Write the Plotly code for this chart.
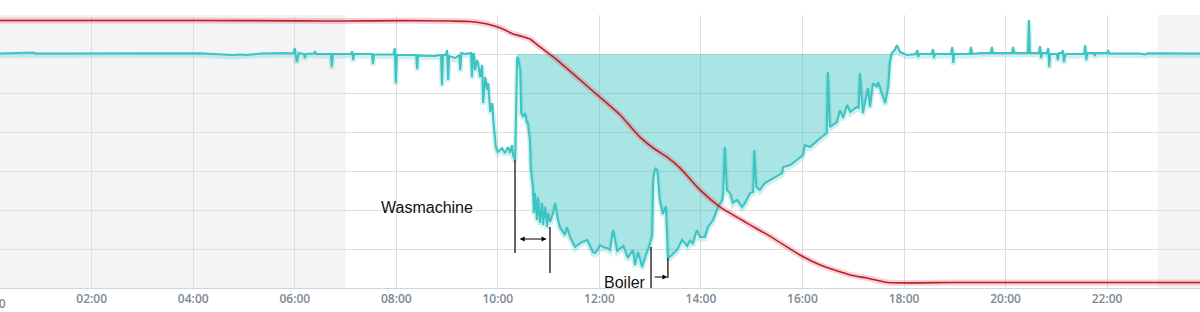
import plotly.graph_objects as go

# ---- data (time in hours of day) ----
power_t = [0.19, 0.79, 0.84, 0.90, 2.16, 3.15, 4.13, 4.78, 4.92, 5.06, 5.32, 5.77, 5.95, 5.98, 6.00, 6.04, 6.08,
           6.16, 6.18, 6.20, 6.22, 6.36, 6.38, 6.40, 6.42, 6.71, 6.73, 6.75, 6.99, 7.11, 7.13, 7.15, 7.17,
           7.52, 7.54, 7.56, 7.95, 7.97, 7.99, 8.01, 8.39, 8.41, 8.43, 8.76, 8.86, 8.88, 8.90, 8.92,
           8.98, 9.00, 9.02, 9.04, 9.16, 9.22, 9.24, 9.26, 9.28, 9.35, 9.45, 9.47, 9.49, 9.51, 9.53,
           9.55, 9.59, 9.61, 9.65, 9.69, 9.71, 9.75, 9.79, 9.81,
           9.85, 9.89, 9.91, 9.94, 9.96, 10.00, 10.08, 10.14, 10.20, 10.24, 10.28, 10.30, 10.34, 10.36,
           10.38, 10.40, 10.44, 10.46, 10.50, 10.54, 10.57, 10.59, 10.63, 10.65, 10.69, 10.71, 10.73, 10.77,
           10.79, 10.83, 10.87, 10.89, 10.93, 10.97, 10.99, 11.03, 11.09, 11.13, 11.17, 11.22, 11.32, 11.36,
           11.42, 11.52, 11.62, 11.66, 11.76, 11.82, 11.87, 11.91, 11.97, 12.01, 12.07, 12.15, 12.21, 12.27,
           12.35, 12.47, 12.56, 12.66, 12.70, 12.76, 12.84, 12.90, 12.96, 13.00, 13.04, 13.06, 13.10, 13.14,
           13.19, 13.25, 13.31, 13.35, 13.43, 13.53, 13.63, 13.73, 13.79, 13.84, 13.92, 13.98, 14.08, 14.14,
           14.24, 14.34, 14.42, 14.44, 14.47, 14.51, 14.57, 14.63, 14.71, 14.81, 14.87, 14.97, 15.03, 15.05,
           15.09, 15.16, 15.26, 15.42, 15.60, 15.62, 15.76, 15.89, 16.01, 16.05, 16.15, 16.35, 16.48, 16.50,
           16.54, 16.68, 16.74, 16.80, 16.88, 16.94, 17.07, 17.11, 17.13, 17.19, 17.29, 17.33, 17.39, 17.47,
           17.49, 17.57, 17.63, 17.69, 17.72, 17.76, 17.82, 17.86, 17.92, 18.06, 18.24, 18.26, 18.28, 18.30,
           18.55, 18.57, 18.59, 18.61, 18.93, 18.95, 18.97, 18.99, 19.30, 19.32, 19.34, 19.50, 19.71, 19.73,
           19.75, 20.13, 20.15, 20.17, 20.44, 20.46, 20.48, 20.66, 20.68, 20.70, 20.72, 20.82, 20.84, 20.86,
           20.88, 21.01, 21.03, 21.05, 21.11, 21.13, 21.15, 21.17, 21.19, 21.55, 21.57, 21.59, 21.61, 21.74,
           21.76, 21.78, 22.00, 22.02, 22.04, 22.65, 22.75, 22.79, 23.83]
power_w = [6, 13, 19, 6, 9, 6, 9, -13, -6, -13, 6, 13, 6, 6, 77, -103, 13,
           0, 0, -51, 0, 6, 6, 38, 0, 0, -167, 0, 0, 0, 38, -77, 0,
           0, -128, -6, -6, 77, -372, -13, -13, -192, -19, -26, -13, -13, -397, -13,
           -13, 51, -333, -26, -51, -13, -13, -205, 13, 0, 13, 13, -295, 0, 0,
           -205, -77, -115, -295, -141, -628, -295, -462, -372,
           -744, -628, -846, -1013, -1192, -1256, -1205, -1269, -1192, -1269, -1167, -1295, -1359, -718,
           -38, -51, -205, -756, -808, -756, -885, -872, -1103, -1487, -1705, -2038, -1782, -2128,
           -1833, -2167, -1910, -2192, -1961, -2218, -2038, -2154, -2038, -1910, -2090, -2218, -2320, -2218,
           -2346, -2474, -2423, -2410, -2385, -2474, -2538, -2551, -2513, -2449, -2474, -2487, -2513, -2256,
           -2525, -2461, -2615, -2513, -2705, -2538, -2731, -2615, -2513, -2423, -2320, -1615, -1461, -1487,
           -1872, -2051, -1949, -2615, -2577, -2513, -2385, -2461, -2385, -2436, -2256, -2346, -2346, -2218,
           -2128, -1961, -1872, -1782, -1192, -1744, -1782, -1910, -1872, -1961, -1910, -1782, -1770, -1231,
           -1705, -1744, -1654, -1590, -1526, -1449, -1423, -1359, -1295, -1167, -1192, -1077, -1013, -231,
           -936, -872, -718, -820, -654, -744, -679, -690, -244, -756, -436, -679, -372, -423,
           -359, -526, -628, -423, -115, 13, 51, 115, 26, -13, 0, 51, -38, 0,
           0, 64, -51, 0, 0, 90, -115, 0, 0, 90, 0, 13, 13, 90,
           13, 13, 90, 13, 13, 436, 13, 13, 103, -51, 13, 13, 77, -167,
           0, 0, -77, 13, 13, 51, -103, -38, 0, 0, 115, -77, 13, 13,
           -26, 13, 13, 51, 6, 6, -6, 9, 6]

energy_t = [0.19, 2.16, 4.13, 6.10, 6.99, 8.07, 9.06, 9.45, 9.79, 9.98, 10.14, 10.30, 10.48, 10.63, 10.83,
            11.17, 11.62, 12.01, 12.41, 12.80, 13.06, 13.33, 13.59, 13.98, 14.38, 14.91, 15.42, 15.95,
            16.35, 16.94, 17.27, 17.68, 18.91, 19.89, 21.86, 23.83]
energy_kwh = [13.72, 13.72, 13.72, 13.70, 13.69, 13.71, 13.69, 13.67, 13.54, 13.40, 13.23, 13.03, 12.90,
              12.77, 12.36, 11.69, 10.67, 9.79, 8.87, 7.74, 7.18, 6.72, 6.15, 5.03, 4.15, 3.33, 2.56, 1.69,
              1.18, 0.67, 0.51, 0.28, 0.28, 0.28, 0.28, 0.28]

tick_hours = [2, 4, 6, 8, 10, 12, 14, 16, 18, 20, 22]
tick_text = ["02:00", "04:00", "06:00", "08:00", "10:00", "12:00", "14:00", "16:00", "18:00", "20:00", "22:00"]
offpeak = [(0, 7), (23, 24)]
solar_window = (10.37, 17.77)

X_RANGE = [0.194, 23.83]

# fill region (derived from the power series)
fill_t = [t for t in power_t if solar_window[0] <= t <= solar_window[1]]
fill_w = [min(w, 0) for t, w in zip(power_t, power_w) if solar_window[0] <= t <= solar_window[1]]

TEAL = "#3ec3c3"
RED = "#b3232b"

fig = go.Figure()
fig.add_trace(go.Scatter(x=fill_t, y=fill_w, mode="lines", fill="tozeroy",
                         fillcolor="rgba(62,196,196,0.44)", line=dict(width=0), hoverinfo="skip"))
fig.add_trace(go.Scatter(x=power_t, y=[w - 25 for w in power_w], mode="lines",
                         line=dict(color="rgba(62,196,196,0.25)", width=5), hoverinfo="skip"))
fig.add_trace(go.Scatter(x=power_t, y=power_w, mode="lines", line=dict(color=TEAL, width=2)))
fig.add_trace(go.Scatter(x=energy_t, y=energy_kwh, mode="lines", yaxis="y2",
                         line=dict(color="rgba(235,90,100,0.28)", width=6, shape="spline", smoothing=0.5),
                         hoverinfo="skip"))
fig.add_trace(go.Scatter(x=energy_t, y=energy_kwh, mode="lines", yaxis="y2",
                         line=dict(color=RED, width=1.6, shape="spline", smoothing=0.5)))

shapes = []
for a, b in offpeak:
    shapes.append(dict(type="rect", xref="x", yref="paper", x0=a, x1=b, y0=0, y1=1,
                       fillcolor="#f4f4f4", line=dict(width=0), layer="below"))
# marker lines
for x0, y0, y1 in [(10.338, -1359, -2551), (11.027, -2218, -2808), (13.017, -2474, -3000), (13.35, -2615, -2872)]:
    shapes.append(dict(type="line", xref="x", yref="y", x0=x0, x1=x0, y0=y0, y1=y1,
                       line=dict(color="black", width=1.2)))

annotations = [
    dict(x=8.605, y=-1974, xref="x", yref="y", text="Wasmachine", showarrow=False,
         font=dict(family="Liberation Sans, Arial", size=16, color="#111")),
    dict(x=12.505, y=-2930, xref="x", yref="y", text="Boiler", showarrow=False,
         font=dict(family="Liberation Sans, Arial", size=16, color="#111")),
    dict(x=10.96, y=-2372, ax=10.40, ay=-2372, xref="x", yref="y", axref="x", ayref="y", text="",
         showarrow=True, arrowhead=2, arrowside="end+start", arrowsize=1, arrowwidth=1, arrowcolor="black"),
    dict(x=13.34, y=-2859, ax=13.06, ay=-2859, xref="x", yref="y", axref="x", ayref="y", text="",
         showarrow=True, arrowhead=2, arrowsize=1, arrowwidth=1, arrowcolor="black"),
    dict(x=(0 - X_RANGE[0]) / (X_RANGE[1] - X_RANGE[0]), y=-0.055, xref="paper", yref="paper",
         text="00:00", showarrow=False, xanchor="center", yanchor="middle",
         font=dict(family="Open Sans", size=12, color="#7b8894", weight=600)),
]

fig.update_layout(
    width=1200, height=312, margin=dict(l=0, r=0, t=15, b=24),
    paper_bgcolor="white", plot_bgcolor="white", showlegend=False,
    shapes=shapes, annotations=annotations,
    xaxis=dict(range=X_RANGE, tickvals=tick_hours, ticktext=tick_text, showgrid=True,
               gridcolor="#dedede", gridwidth=1, zeroline=False, showline=True, linecolor="#d4d4d4",
               ticks="", tickfont=dict(family="Open Sans", size=12, color="#7b8894", weight=600)),
    yaxis=dict(range=[-3000, 500], dtick=500, showgrid=True, gridcolor="#dedede", zeroline=False,
               showticklabels=False, ticks=""),
    yaxis2=dict(range=[0, 14], overlaying="y", showgrid=False, showticklabels=False, zeroline=False),
)

fig.write_html("out.html")
